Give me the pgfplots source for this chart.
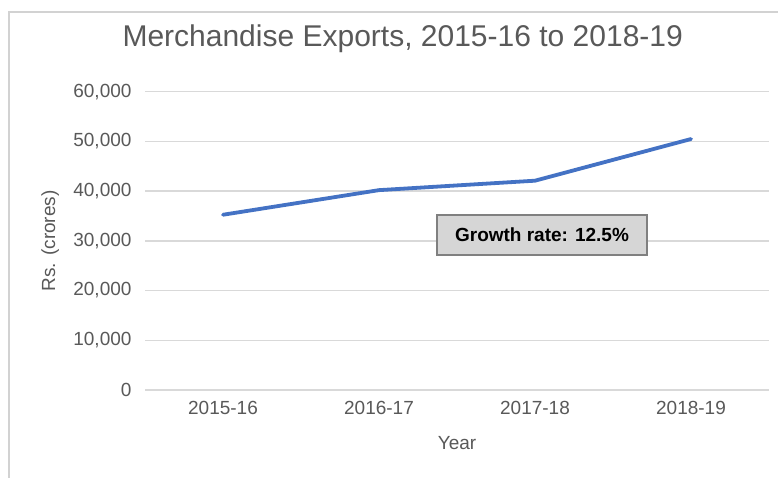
\documentclass[border=0pt]{standalone}
\usepackage{pgfplots}
\pgfplotsset{compat=1.18}
\usepackage{fontspec}
\setmainfont{Liberation Sans}
\definecolor{txtgray}{HTML}{595959}
\definecolor{gridgray}{HTML}{D9D9D9}
\definecolor{lineblue}{HTML}{4472C4}
\definecolor{boxfill}{HTML}{D6D6D6}
\definecolor{boxdraw}{HTML}{808080}
\begin{document}
\begin{tikzpicture}[x=1pt,y=1pt]
\useasboundingbox (0,0) rectangle (778,477);
\fill[white] (0,0) rectangle (778,477);
\draw[gray!35, line width=1.2pt] (9,-2) -- (9,465) -- (780,465);
\begin{axis}[
  at={(145pt,87pt)}, anchor=south west,
  scale only axis, width=624pt, height=298.3pt,
  xmin=-0.5, xmax=3.5, ymin=0, ymax=60000,
  xtick={0,1,2,3},
  xticklabels={2015-16,2016-17,2017-18,2018-19},
  ytick={0,10000,20000,30000,40000,50000,60000},
  scaled y ticks=false,
  /pgf/number format/.cd, 1000 sep={,}, assume math mode=true, /pgfplots/.cd,
  axis line style={draw=none},
  ymajorgrids, grid style={gridgray, line width=1.5pt},
  major tick length=0pt,
  tick style={draw=none},
  tick label style={font=\fontsize{19}{22}\selectfont, text=txtgray},
  yticklabel style={xshift=-10pt},
  xticklabel style={yshift=-8pt},
  title={Merchandise Exports, 2015-16 to 2018-19},
  title style={at={(axis description cs:0.413,1.157)}, anchor=center, font=\fontsize{30}{34}\selectfont, text=txtgray},
  xlabel={Year},
  xlabel style={at={(axis description cs:0.5,-0.178)}, anchor=center, font=\fontsize{19}{22}\selectfont, text=txtgray},
  ylabel={Rs. (crores)},
  ylabel style={at={(axis description cs:-0.152,0.5)}, anchor=center, rotate=0, font=\fontsize{19}{22}\selectfont, text=txtgray},
  clip=false,
]
\addplot[lineblue, line width=3.8pt, line join=round, line cap=round] coordinates {
  (0,35250) (1,40200) (2,42100) (3,50480)
};
\node[draw=boxdraw, fill=boxfill, line width=1.5pt, minimum width=210pt, minimum height=40pt, inner sep=0pt, font=\bfseries\fontsize{19}{22}\selectfont, text=black] at (axis cs:2.045,31180) {Growth rate: 12.5\%};
\end{axis}
\end{tikzpicture}
\end{document}
